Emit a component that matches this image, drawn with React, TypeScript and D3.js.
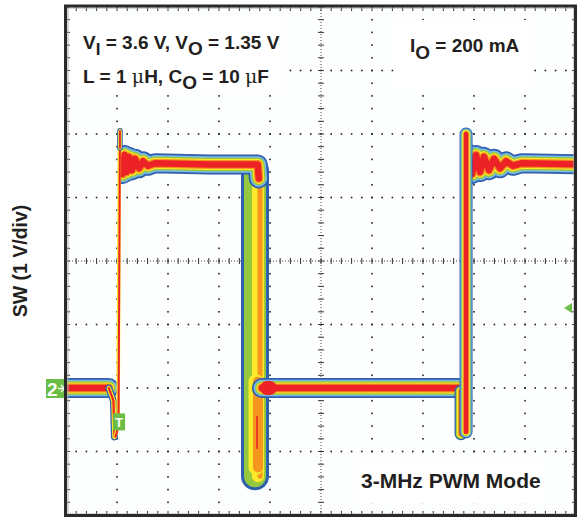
import React from 'react';
import * as d3 from 'd3';

const W = 577;
const H = 521;

// Horizontal: time in ns (50 ns/div); vertical: SW voltage in V (1 V/div), channel-2 ground = 0 V
const timeDomain: [number, number] = [0, 500];
const voltDomain: [number, number] = [-2, 6];
const timeDivs = d3.range(0, 501, 50);
const voltDivs = d3.range(-2, 7, 1);
const timeSub = d3.range(0, 500.01, 10);
const voltSub = d3.range(-2, 6.01, 0.2);

type P = [number, number];

// first switching cycle
const lowLevelA: P[] = [[-10, 0], [42, 0]];
const dipA: P[] = [[42, 0], [46.5, -0.2], [47.5, -0.77]];
const edgeA: P[] = [[48.5, -0.77], [51.5, -0.6], [52.9, 4.05]];
const edgeATip: P[] = [[52.9, 3.78], [52.9, 4.05]];
const ringA: P[] = [
  [52.9, 3.6], [55.4, 3.37], [57.4, 3.67], [59.3, 3.4], [61.8, 3.64], [64.7, 3.43],
  [67.6, 3.61], [71.6, 3.46], [75.5, 3.57], [80.4, 3.5], [87.3, 3.54], [140, 3.52],
  [188, 3.52], [189, 3.3],
];
const fallEdge: P[] = [[185.3, 3.42], [185.3, -1.39]];
const fallEdgeNeg: P[] = [[185.3, 0.1], [185.3, -1.25]];
const fallStreak: P[] = [[187.3, -0.45], [187.3, -0.95]];
const lowLevelB: P[] = [[192, 0], [385, 0]];
const junctionB: P[] = [[197, 0.0], [200, 0.0]];
// second cycle
const dipB: P[] = [[387.3, -0.05], [387.3, -0.72]];
const edgeB: P[] = [[392.2, -0.69], [392.2, 4.0]];
const ringB: P[] = [
  [393.5, 3.7], [398, 3.37], [402, 3.67], [405.9, 3.4], [409.8, 3.64], [414.7, 3.43],
  [419.6, 3.61], [425.5, 3.46], [431.4, 3.57], [438.2, 3.5], [447.1, 3.54], [510, 3.52],
];

const triggerTime = 52;
const triggerLevel = 1.26;

const BLUE = '#2f5fae';
const LBLUE = '#7cbbe6';
const GREEN = '#94c83e';
const YELLOW = '#fde92b';
const ORANGE = '#f7961f';
const RED = '#ec2227';
const MARK = '#6cbd45';

type Layer = { c: string; w: number; dx: number };

const bandLayers: Layer[] = [
  { c: BLUE, w: 20, dx: 0 },
  { c: LBLUE, w: 16.5, dx: 0 },
  { c: GREEN, w: 13.5, dx: 0 },
  { c: YELLOW, w: 11, dx: 0 },
  { c: ORANGE, w: 9, dx: 0 },
  { c: RED, w: 6.5, dx: 0 },
];
const edgeLayers: Layer[] = [
  { c: BLUE, w: 13, dx: 0 },
  { c: LBLUE, w: 11, dx: 0 },
  { c: GREEN, w: 9, dx: 0 },
  { c: YELLOW, w: 7.5, dx: 0 },
  { c: RED, w: 5, dx: 0 },
];
const dipLayers: Layer[] = [
  { c: BLUE, w: 13, dx: 0 },
  { c: GREEN, w: 10.5, dx: 0 },
  { c: YELLOW, w: 8.5, dx: 0 },
  { c: ORANGE, w: 6, dx: 0 },
  { c: RED, w: 3, dx: 0 },
];
const fallLayers: Layer[] = [
  { c: BLUE, w: 28, dx: 0 },
  { c: GREEN, w: 22, dx: 0 },
  { c: YELLOW, w: 12, dx: 3 },
  { c: ORANGE, w: 5, dx: 5 },
];
const fallNegLayers: Layer[] = [
  { c: YELLOW, w: 15, dx: 1 },
  { c: ORANGE, w: 10, dx: 3 },
];
const thinDipLayers: Layer[] = [
  { c: BLUE, w: 7, dx: 0 },
  { c: YELLOW, w: 4.5, dx: 0 },
  { c: RED, w: 2.2, dx: 0 },
];
const thinEdgeLayers: Layer[] = [
  { c: YELLOW, w: 3.6, dx: -0.5 },
  { c: RED, w: 2, dx: 0 },
];
const tipLayers: Layer[] = [
  { c: BLUE, w: 5.5, dx: 0 },
  { c: YELLOW, w: 3.5, dx: 0 },
  { c: RED, w: 1.8, dx: 0 },
];

const x = d3.scaleLinear().domain(timeDomain).range([66, 576]);
const y = d3.scaleLinear().domain(voltDomain).range([515, 7]);

function Band({ pts, layers, clip }: { pts: P[]; layers: Layer[]; clip?: string }) {
  return (
    <g clipPath={clip ? `url(#${clip})` : undefined}>
      {layers.map((l, i) => {
        const line = d3
          .line<P>()
          .x((d) => x(d[0]) + l.dx)
          .y((d) => y(d[1]));
        return (
          <path
            key={i}
            d={line(pts) || ''}
            fill="none"
            stroke={l.c}
            strokeWidth={l.w}
            strokeLinecap="round"
            strokeLinejoin="round"
          />
        );
      })}
    </g>
  );
}

export default function App() {
  const x0 = x(timeDomain[0]);
  const x1 = x(timeDomain[1]);
  const y0 = y(voltDomain[1]);
  const y1 = y(voltDomain[0]);
  const cx = x(250);
  const cy = y(2);

  const dots: React.ReactNode[] = [];
  voltDivs.forEach((v) => {
    if (v === 2 || v === -2 || v === 6) return;
    timeSub.forEach((t, j) => {
      dots.push(<rect key={`h${v}-${j}`} x={x(t) - 0.8} y={y(v) - 0.8} width={1.6} height={1.6} fill="#222" />);
    });
  });
  timeDivs.forEach((t) => {
    if (t === 250 || t === 0 || t === 500) return;
    voltSub.forEach((v, j) => {
      dots.push(<rect key={`v${t}-${j}`} x={x(t) - 0.8} y={y(v) - 0.8} width={1.6} height={1.6} fill="#222" />);
    });
  });

  const ticks: React.ReactNode[] = [];
  timeSub.forEach((t, j) => {
    ticks.push(<line key={`ct${j}`} x1={x(t)} x2={x(t)} y1={cy - 3} y2={cy + 3} stroke="#333" strokeWidth={1} />);
    ticks.push(<line key={`tt${j}`} x1={x(t)} x2={x(t)} y1={y0} y2={y0 + 4} stroke="#333" strokeWidth={1} />);
    ticks.push(<line key={`bt${j}`} x1={x(t)} x2={x(t)} y1={y1 - 4} y2={y1} stroke="#333" strokeWidth={1} />);
  });
  voltSub.forEach((v, j) => {
    ticks.push(<line key={`cv${j}`} x1={cx - 3} x2={cx + 3} y1={y(v)} y2={y(v)} stroke="#333" strokeWidth={1} />);
    ticks.push(<line key={`lv${j}`} x1={x0} x2={x0 + 4} y1={y(v)} y2={y(v)} stroke="#333" strokeWidth={1} />);
    ticks.push(<line key={`rv${j}`} x1={x1 - 4} x2={x1} y1={y(v)} y2={y(v)} stroke="#333" strokeWidth={1} />);
  });

  const font = "'Liberation Sans', Arial, sans-serif";
  const serif = "'DejaVu Serif', 'Liberation Serif', serif";

  return (
    <svg width={W} height={H} style={{ position: 'absolute', left: 0, top: 0, background: '#fff' }}>
      <defs>
        <clipPath id="plot">
          <rect x={x0} y={y0} width={x1 - x0} height={y1 - y0} />
        </clipPath>
        <clipPath id="afterA">
          <rect x={x(52.9) - 1} y={y0} width={x1 - x(52.9)} height={y1 - y0} />
        </clipPath>
        <clipPath id="afterB">
          <rect x={x(392.2)} y={y0} width={x1 - x(392.2)} height={y1 - y0} />
        </clipPath>
      </defs>
      <rect x={x0} y={y0} width={x1 - x0} height={y1 - y0} fill="#fdfefe" />
      <g>
        {dots}
        <line x1={x0} x2={x1} y1={cy} y2={cy} stroke="#444" strokeWidth={1} strokeDasharray="1 2" />
        <line x1={cx} x2={cx} y1={y0} y2={y1} stroke="#444" strokeWidth={1} strokeDasharray="1 2" />
        {ticks}
      </g>

      {/* annotation backgrounds */}
      <rect x={72} y={16} width={212} height={74} fill="#fff" />
      <rect x={394} y={20} width={138} height={68} fill="#fff" />
      <rect x={356} y={462} width={188} height={41} fill="#fff" />

      <g clipPath="url(#plot)">
        <Band pts={fallEdge} layers={fallLayers} />
        <Band pts={fallEdgeNeg} layers={fallNegLayers} />
        <Band pts={fallStreak} layers={[{ c: RED, w: 1.6, dx: 0 }]} />
        <Band pts={lowLevelB} layers={bandLayers} />
        <Band pts={junctionB} layers={[{ c: RED, w: 14, dx: 0 }]} />
        <Band pts={ringA} layers={bandLayers} clip="afterA" />
        <Band pts={lowLevelA} layers={bandLayers} />
        <Band pts={dipA} layers={thinDipLayers} />
        <Band pts={edgeA} layers={thinEdgeLayers} />
        <Band pts={edgeATip} layers={tipLayers} />
        <Band pts={dipB} layers={dipLayers} />
        <Band pts={ringB} layers={bandLayers} clip="afterB" />
        <Band pts={edgeB} layers={edgeLayers} />
      </g>

      {/* trigger position marker */}
      <rect x={x(triggerTime) - 6} y={y(-0.4)} width={12} height={17} fill={MARK} />
      <text x={x(triggerTime)} y={y(-0.4) + 14} textAnchor="middle" fill="#fff" fontFamily={font} fontWeight="bold" fontSize={13}>T</text>

      {/* channel 2 ground marker */}
      <rect x={46} y={y(0) - 9} width={19} height={19} fill={MARK} />
      <text x={47} y={y(0) + 7.5} fill="#fff" fontFamily={font} fontWeight="bold" fontSize={19}>2</text>
      <line x1={58} x2={64} y1={y(0) + 0.5} y2={y(0) + 0.5} stroke="#fff" strokeWidth={1.5} />
      <path d={`M61,${y(0) - 3} L64.5,${y(0) + 0.5} L61,${y(0) + 4}`} fill="none" stroke="#fff" strokeWidth={1.2} />

      {/* trigger level marker */}
      <path d={`M${x1 - 12},${y(triggerLevel)} L${x1 - 4},${y(triggerLevel) - 5} L${x1 - 4},${y(triggerLevel) + 5} Z`} fill={MARK} />

      {/* frame */}
      <rect x={x0 + 2} y={y0 + 1} width={x1 - x0 - 4} height={y1 - y0 - 2} fill="none" stroke="#aaa" strokeWidth={1} />
      <rect x={x0 - 0.5} y={y0 - 1} width={x1 - x0} height={y1 - y0 + 1.5} fill="none" stroke="#2a2a2a" strokeWidth={3} />

      {/* annotations */}
      <text x={83} y={49} fontFamily={font} fontWeight="bold" fontSize={19} fill="#231f20">
        V<tspan dy={6} fontSize={17}>I</tspan>
        <tspan dy={-6}> = 3.6 V, V</tspan>
        <tspan dy={6}>O</tspan>
        <tspan dy={-6}> = 1.35 V</tspan>
      </text>
      <text x={83} y={83} fontFamily={font} fontWeight="bold" fontSize={19} fill="#231f20">
        L = 1 <tspan fontFamily={serif} fontWeight="normal">μ</tspan>H, C
        <tspan dy={6}>O</tspan>
        <tspan dy={-6}> = 10 </tspan>
        <tspan fontFamily={serif} fontWeight="normal">μ</tspan>F
      </text>
      <text x={410} y={52} fontFamily={font} fontWeight="bold" fontSize={19} fill="#231f20">
        I<tspan dy={7}>O</tspan>
        <tspan dy={-7}> = 200 mA</tspan>
      </text>
      <text x={361} y={488} fontFamily={font} fontWeight="bold" fontSize={21} fill="#231f20">
        3-MHz PWM Mode
      </text>
      <text
        transform={`translate(27,${cy}) rotate(-90)`}
        textAnchor="middle"
        fontFamily={font}
        fontWeight="bold"
        fontSize={19.5}
        fill="#231f20"
      >
        SW (1 V/div)
      </text>
    </svg>
  );
}
